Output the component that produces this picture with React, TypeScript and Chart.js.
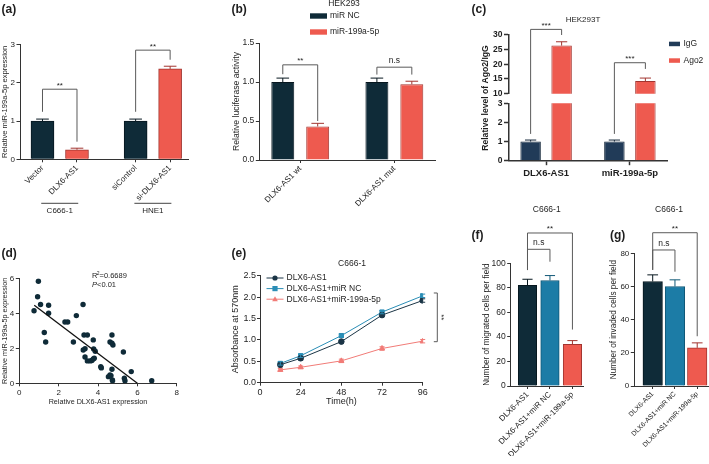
import React, { useEffect, useRef } from 'react';
import { Chart, registerables } from 'chart.js';

Chart.register(...registerables);

const W = 709;
const H = 464;
const FONT = '"Liberation Sans", Arial, Helvetica, sans-serif';
const INK = '#1e1e1e';
const AXIS = '#333333';
const BRK = '#5a5a5a';

const DARK = '#0f2b38';
const DARK_EDGE = '#07171f';
const RED = '#ee5a4f';
const RED_EDGE = '#a23530';
const NAVY = '#213b58';
const NAVY_EDGE = '#132538';
const BLUE = '#1c7ca6';
const BLUE_EDGE = '#105877';
const LINE_DARK = '#1b3546';
const LINE_TEAL = '#2b8eb6';
const LINE_RED = '#f17b77';

// ---------------- (a) ----------------
const aLabels = ['Vector', 'DLX6-AS1', 'siControl', 'si-DLX6-AS1'];
const aValues = [1.0, 0.25, 1.0, 2.36];
const aErrors = [0.05, 0.04, 0.05, 0.07];
const aGroups = ['C666-1', 'HNE1'];

// ---------------- (b) ----------------
const bLabels = ['DLX6-AS1 wt', 'DLX6-AS1 mut'];
const bSeries = ['miR NC', 'miR-199a-5p'];
const bNC = [1.0, 1.0];
const bMiR = [0.43, 0.97];
const bNCErr = [0.05, 0.05];
const bMiRErr = [0.04, 0.04];

// ---------------- (c) ----------------
const cLabels = ['DLX6-AS1', 'miR-199a-5p'];
const cSeries = ['IgG', 'Ago2'];
const cIgG = [1.0, 1.0];
const cAgo2 = [26.3, 14.3];
const cIgGErr = [0.08, 0.08];
const cAgo2Err = [1.3, 1.0];

// ---------------- (d) ----------------
const dX = [0.75, 0.97, 0.93, 1.08, 1.49, 1.49, 1.27, 1.34, 2.32, 2.46, 2.9, 2.75, 3.24, 3.29, 3.46, 3.25, 3.34, 3.34, 3.46, 3.6, 3.69, 3.76, 3.81, 3.78, 3.86, 4.14, 4.17, 3.76, 4.53, 4.61, 4.66, 4.71, 4.73, 4.61, 4.71, 4.76, 4.71, 5.29, 5.34, 5.37, 5.69, 6.73, 4.74];
const dY = [4.15, 5.83, 4.95, 4.5, 4.46, 4.0, 2.9, 2.36, 3.5, 3.5, 3.87, 2.36, 4.5, 2.76, 2.76, 1.9, 1.98, 1.5, 1.28, 1.28, 1.3, 1.39, 1.43, 1.96, 1.83, 0.95, 0.88, 2.48, 0.38, 0.48, 0.44, 0.8, 0.19, 2.36, 2.29, 2.19, 2.76, 1.79, 0.29, 0.15, 0.67, 0.15, 0.15];
const dFitX = [0.76, 6.0];
const dFitY = [4.46, 0];

// ---------------- (e) ----------------
const eTime = [12, 24, 48, 72, 96];
const eSeries = ['DLX6-AS1', 'DLX6-AS1+miR NC', 'DLX6-AS1+miR-199a-5p'];
const eDLX = [0.42, 0.57, 0.96, 1.58, 1.92];
const eNC = [0.45, 0.63, 1.1, 1.65, 2.03];
const eMiR = [0.3, 0.36, 0.51, 0.8, 0.97];
const eDLXErr = [0.05, 0.04, 0.04, 0.04, 0.04];
const eNCErr = [0.04, 0.04, 0.04, 0.04, 0.04];
const eMiRErr = [0.03, 0.03, 0.04, 0.04, 0.04];

// ---------------- (f) / (g) ----------------
const fgLabels = ['DLX6-AS1', 'DLX6-AS1+miR NC', 'DLX6-AS1+miR-199a-5p'];
const fValues = [82, 86, 34];
const fErrors = [5, 4, 3];
const gValues = [63, 60, 23];
const gErrors = [4, 4, 3];

// ---------------- helpers ----------------
type Area = { L: number; T: number; R: number; B: number };
const pad = (a: Area, yW: number, xH: number) => ({
  left: a.L - yW,
  top: a.T,
  right: W - a.R,
  bottom: H - a.B - xH,
});
const font = (size: number, bold = false) => ({ family: FONT, size, weight: bold ? 'bold' : 'normal', lineHeight: 1.2 });

function txt(ctx: any, s: string, x: number, y: number, o: any = {}) {
  ctx.save();
  ctx.font = `${o.italic ? 'italic ' : ''}${o.bold ? 'bold ' : ''}${o.size ?? 8}px ${FONT}`;
  ctx.fillStyle = o.color ?? INK;
  ctx.textAlign = o.align ?? 'center';
  ctx.textBaseline = o.base ?? 'middle';
  ctx.translate(x, y);
  if (o.rot) ctx.rotate(o.rot);
  ctx.fillText(s, 0, 0);
  ctx.restore();
}

function poly(ctx: any, pts: number[][], color: string, lw = 1) {
  ctx.save();
  ctx.strokeStyle = color;
  ctx.lineWidth = lw;
  ctx.beginPath();
  pts.forEach((p, i) => (i ? ctx.lineTo(p[0], p[1]) : ctx.moveTo(p[0], p[1])));
  ctx.stroke();
  ctx.restore();
}

function barErrors(chart: any, di: number, errs: number[], colors: any, capFrac = 0.55, lw = 1) {
  const ctx = chart.ctx;
  const ys = chart.scales.y;
  const meta = chart.getDatasetMeta(di);
  const data = chart.data.datasets[di].data;
  meta.data.forEach((el: any, i: number) => {
    const raw = data[i];
    const v = typeof raw === 'number' ? raw : raw && raw.y;
    const e = errs[i];
    if (v == null || e == null) return;
    if (v < ys.min || v + e > ys.max) return;
    const col = Array.isArray(colors) ? colors[i] : colors;
    const half = (el.width * capFrac) / 2;
    const y0 = ys.getPixelForValue(v);
    const y1 = ys.getPixelForValue(v + e);
    poly(ctx, [[el.x, y0], [el.x, y1]], col, lw);
    poly(ctx, [[el.x - half, y1], [el.x + half, y1]], col, lw);
  });
}

function lineErrors(chart: any, di: number, errs: number[], color: string, cap = 2.5) {
  const ctx = chart.ctx;
  const ys = chart.scales.y;
  const meta = chart.getDatasetMeta(di);
  const data = chart.data.datasets[di].data;
  meta.data.forEach((el: any, i: number) => {
    const v = data[i].y;
    const e = errs[i];
    const y0 = ys.getPixelForValue(v - e);
    const y1 = ys.getPixelForValue(v + e);
    poly(ctx, [[el.x, y0], [el.x, y1]], color, 1);
    poly(ctx, [[el.x - cap, y0], [el.x + cap, y0]], color, 1);
    poly(ctx, [[el.x - cap, y1], [el.x + cap, y1]], color, 1);
  });
}

function bracket(ctx: any, x1: number, x2: number, yTop: number, yL: number, yR: number, label: string, gap: number, size: number) {
  poly(ctx, [[x1, yL], [x1, yTop], [x2, yTop], [x2, yR]], BRK, 1);
  txt(ctx, label, (x1 + x2) / 2, yTop - gap, { size, base: 'alphabetic' });
}

function base(padding: any) {
  return {
    responsive: false,
    maintainAspectRatio: false,
    animation: false,
    devicePixelRatio: 1,
    events: [],
    layout: { padding },
    plugins: { legend: { display: false }, title: { display: false }, tooltip: { enabled: false } },
  };
}

function yLin(o: any) {
  const lw = o.lw ?? 1;
  return {
    type: 'linear',
    position: 'left',
    min: o.min,
    max: o.max,
    ticks: {
      stepSize: o.step,
      color: INK,
      padding: o.tickPad ?? 1.5,
      font: font(o.size, !!o.bold),
      callback: (v: any) => (o.dec != null ? Number(v).toFixed(o.dec) : String(v)),
    },
    grid: { display: true, drawOnChartArea: false, drawTicks: true, tickLength: o.tickLen ?? 3.5, tickColor: AXIS, tickWidth: lw },
    border: { display: true, color: AXIS, width: lw },
    title: o.title
      ? { display: true, text: o.title, color: INK, font: font(o.titleSize ?? o.size, !!o.titleBold), padding: { top: 0, bottom: 0 } }
      : { display: false },
    afterFit: (s: any) => {
      s.width = o.yW;
      s.paddingTop = 0;
      s.paddingBottom = 0;
    },
  };
}

function xSlots(o: any) {
  const lw = o.lw ?? 1;
  return {
    type: 'linear',
    position: 'bottom',
    display: o.display ?? true,
    min: o.min,
    max: o.max,
    offset: false,
    afterBuildTicks: (s: any) => {
      s.ticks = o.slots.map((v: number) => ({ value: v }));
    },
    ticks: {
      autoSkip: false,
      minRotation: o.rot ?? 0,
      maxRotation: o.rot ?? 0,
      color: INK,
      padding: o.tickPad ?? 1,
      font: font(o.size ?? 8, !!o.bold),
      callback: (_v: any, i: number) => o.labels[i],
    },
    grid: { display: true, offset: false, drawOnChartArea: false, drawTicks: true, tickLength: o.tickLen ?? 3, tickColor: AXIS, tickWidth: lw },
    border: { display: true, color: AXIS, width: lw },
    afterFit: (s: any) => {
      s.height = o.xH;
      s.paddingLeft = 0;
      s.paddingRight = 0;
    },
  };
}

function xNum(o: any) {
  return {
    type: 'linear',
    position: 'bottom',
    min: o.min,
    max: o.max,
    ticks: { stepSize: o.step, maxRotation: 0, minRotation: 0, color: INK, padding: o.tickPad ?? 1.5, font: font(o.size) },
    grid: { display: true, drawOnChartArea: false, drawTicks: true, tickLength: o.tickLen ?? 3, tickColor: AXIS },
    border: { display: true, color: AXIS, width: 1 },
    title: o.title
      ? { display: true, text: o.title, color: INK, font: font(o.titleSize ?? o.size), padding: { top: 0, bottom: 0 } }
      : { display: false },
    afterFit: (s: any) => {
      s.height = o.xH;
      s.paddingLeft = 0;
      s.paddingRight = 0;
    },
  };
}

// ---------------- chart configs ----------------
function cfgA(): any {
  const area = { L: 20, T: 44.4, R: 188, B: 159.3 };
  const slots = [1, 2, 3.7, 4.7];
  const fill = aValues.map((_, i) => (i % 2 ? RED : DARK));
  const edge = aValues.map((_, i) => (i % 2 ? RED_EDGE : DARK_EDGE));
  return {
    type: 'bar',
    data: {
      datasets: [
        { label: 'miR-199a-5p', data: aValues.map((v, i) => ({ x: slots[i], y: v })), backgroundColor: fill, borderColor: edge, borderWidth: 1, barThickness: 23 },
      ],
    },
    options: {
      ...base(pad(area, 19.5, 60)),
      scales: {
        x: xSlots({ min: 0.348, max: 5.218, slots, labels: aLabels, xH: 60, size: 8, rot: 45 }),
        y: yLin({ min: 0, max: 3, step: 1, yW: 19.5, size: 8, title: 'Relative miR-199a-5p expression', titleSize: 7.6 }),
      },
    },
    plugins: [
      {
        id: 'annA',
        afterDraw(chart: any) {
          const ctx = chart.ctx;
          const py = (v: number) => chart.scales.y.getPixelForValue(v);
          barErrors(chart, 0, aErrors, edge);
          const el = chart.getDatasetMeta(0).data;
          bracket(ctx, el[0].x, el[1].x, py(1.83), py(1.24), py(0.46), '**', 1.5, 8);
          bracket(ctx, el[2].x, el[3].x, py(2.85), py(1.24), py(2.6), '**', 1.5, 8);
          const gy = chart.chartArea.bottom + 44;
          [[0, 1], [2, 3]].forEach((p, g) => {
            const cx = (el[p[0]].x + el[p[1]].x) / 2;
            poly(ctx, [[cx - 18.5, gy], [cx + 18.5, gy]], '#444', 1);
            txt(ctx, aGroups[g], cx, gy + 7.5, { size: 8 });
          });
          txt(ctx, '(a)', 1.5, 10, { size: 12, bold: true, align: 'left' });
        },
      },
    ],
  };
}

function cfgB(): any {
  const area = { L: 259.3, T: 43, R: 435.3, B: 160 };
  const slots = [1, 2];
  const common = { borderWidth: 1, categoryPercentage: 0.742, barPercentage: 0.657 };
  return {
    type: 'bar',
    data: {
      datasets: [
        { label: bSeries[0], data: bNC.map((v, i) => ({ x: slots[i], y: v })), backgroundColor: DARK, borderColor: DARK_EDGE, ...common },
        { label: bSeries[1], data: bMiR.map((v, i) => ({ x: slots[i], y: v })), backgroundColor: RED, borderColor: RED_EDGE, ...common },
      ],
    },
    options: {
      ...base(pad(area, 28.3, 70)),
      scales: {
        x: xSlots({ min: 0.565, max: 2.435, slots, labels: bLabels, xH: 70, size: 8, rot: 45 }),
        y: yLin({ min: 0, max: 1.5, step: 0.5, yW: 28.3, size: 8.5, dec: 1, title: 'Relative luciferase activity', titleSize: 8.6 }),
      },
    },
    plugins: [
      {
        id: 'annB',
        afterDraw(chart: any) {
          const ctx = chart.ctx;
          const py = (v: number) => chart.scales.y.getPixelForValue(v);
          barErrors(chart, 0, bNCErr, DARK_EDGE);
          barErrors(chart, 1, bMiRErr, RED_EDGE);
          const m0 = chart.getDatasetMeta(0).data;
          const m1 = chart.getDatasetMeta(1).data;
          bracket(ctx, m0[0].x, m1[0].x, py(1.22), py(1.1), py(0.5), '**', 1.5, 8);
          bracket(ctx, m0[1].x, m1[1].x, py(1.19), py(1.095), py(1.095), 'n.s', 4, 8.5);
          chart.data.datasets.forEach((ds: any, i: number) => {
            ctx.save();
            ctx.fillStyle = ds.backgroundColor;
            ctx.fillRect(310, 13.3 + i * 16, 17, 5.4);
            ctx.restore();
            txt(ctx, ds.label, 330, 16 + i * 16, { size: 8.5, align: 'left' });
          });
          txt(ctx, 'HEK293', 344, 3.5, { size: 8.5 });
          txt(ctx, '(b)', 231.5, 10, { size: 12, bold: true, align: 'left' });
        },
      },
    ],
  };
}

function cDatasets() {
  const slots = [1, 2];
  const common = { borderWidth: 1, categoryPercentage: 0.74, barPercentage: 0.66, clip: 0 };
  return [
    { label: cSeries[0], data: cIgG.map((v, i) => ({ x: slots[i], y: v })), backgroundColor: NAVY, borderColor: NAVY_EDGE, ...common },
    { label: cSeries[1], data: cAgo2.map((v, i) => ({ x: slots[i], y: v })), backgroundColor: RED, borderColor: RED_EDGE, ...common },
  ];
}

function cfgCLower(): any {
  const area = { L: 509, T: 103.3, R: 667, B: 160.7 };
  return {
    type: 'bar',
    data: { datasets: cDatasets() },
    options: {
      ...base(pad(area, 30, 30)),
      scales: {
        x: xSlots({ min: 0.557, max: 2.443, slots: [1, 2], labels: cLabels, xH: 30, size: 9.5, bold: true, rot: 0, tickLen: 4.5, tickPad: 2, lw: 1.5 }),
        y: yLin({ min: 0, max: 3, step: 1, yW: 30, size: 8.5, bold: true, tickLen: 5, lw: 1.5 }),
      },
    },
    plugins: [
      {
        id: 'annCL',
        afterDraw(chart: any) {
          barErrors(chart, 0, cIgGErr, NAVY_EDGE);
          barErrors(chart, 1, cAgo2Err, RED_EDGE);
        },
      },
    ],
  };
}

function cfgCUpper(lower: any): any {
  const area = { L: 509, T: 34.7, R: 667, B: 93.7 };
  const xs = xSlots({ min: 0.557, max: 2.443, slots: [1, 2], labels: cLabels, xH: 0, size: 9.5, rot: 0 });
  return {
    type: 'bar',
    data: { datasets: cDatasets() },
    options: {
      ...base(pad(area, 30, 0)),
      scales: {
        x: { ...xs, display: false },
        y: yLin({ min: 10, max: 30, step: 5, yW: 30, size: 8.5, bold: true, tickLen: 5, lw: 1.5 }),
      },
    },
    plugins: [
      {
        id: 'annCU',
        afterDraw(chart: any) {
          const ctx = chart.ctx;
          barErrors(chart, 0, cIgGErr, NAVY_EDGE);
          barErrors(chart, 1, cAgo2Err, RED_EDGE);
          const up = (v: number) => chart.scales.y.getPixelForValue(v);
          const lo = (v: number) => lower.scales.y.getPixelForValue(v);
          const lm = lower.getDatasetMeta(0).data;
          const um = chart.getDatasetMeta(1).data;
          bracket(ctx, lm[0].x, um[0].x, up(31.8), lo(1.4), up(29.9), '***', 1.5, 8);
          bracket(ctx, lm[1].x, um[1].x, up(20.5), lo(1.4), up(18.4), '***', 1.5, 8);
          txt(ctx, 'Relative level of Ago2/IgG', 485.5, 98, { size: 8.6, bold: true, rot: -Math.PI / 2 });
          txt(ctx, 'HEK293T', 583, 20, { size: 8 });
          chart.data.datasets.forEach((ds: any, i: number) => {
            ctx.save();
            ctx.fillStyle = ds.backgroundColor;
            ctx.fillRect(669, 41.7 + i * 16.6, 11, 4.5);
            ctx.restore();
            txt(ctx, ds.label, 683.5, 44 + i * 16.6, { size: 8.5, align: 'left' });
          });
          txt(ctx, '(c)', 471.5, 10, { size: 12, bold: true, align: 'left' });
        },
      },
    ],
  };
}

function cfgD(): any {
  const area = { L: 19.3, T: 278.3, R: 176.7, B: 383.3 };
  return {
    type: 'scatter',
    data: {
      datasets: [
        { label: 'fit', data: dFitX.map((x, i) => ({ x, y: dFitY[i] })), showLine: true, borderColor: '#111111', borderWidth: 1.3, pointRadius: 0 },
        { label: 'samples', data: dX.map((x, i) => ({ x, y: dY[i] })), backgroundColor: DARK, borderColor: DARK, pointRadius: 2.7, borderWidth: 0 },
      ],
    },
    options: {
      ...base(pad(area, 19, 23)),
      scales: {
        x: xNum({ min: 0, max: 8, step: 2, xH: 23, size: 8, title: 'Relative DLX6-AS1 expression', titleSize: 7.2 }),
        y: yLin({ min: 0, max: 6, step: 2, yW: 19, size: 8, title: 'Relative miR-199a-5p expression', titleSize: 7.2 }),
      },
    },
    plugins: [
      {
        id: 'annD',
        afterDraw(chart: any) {
          const ctx = chart.ctx;
          txt(ctx, 'R', 92, 276, { size: 7.5, align: 'left' });
          txt(ctx, '2', 96.8, 273.5, { size: 5, align: 'left' });
          txt(ctx, '=0.6689', 99.5, 276, { size: 7.5, align: 'left' });
          txt(ctx, 'P', 92, 284.5, { size: 7.5, align: 'left', italic: true });
          txt(ctx, '<0.01', 97, 284.5, { size: 7.5, align: 'left' });
          txt(ctx, '(d)', 1.5, 254, { size: 12, bold: true, align: 'left' });
        },
      },
    ],
  };
}

function cfgE(): any {
  const area = { L: 260, T: 275.7, R: 422.7, B: 382.7 };
  const series = [
    { data: eDLX, err: eDLXErr, color: LINE_DARK, style: 'circle', r: 2.8 },
    { data: eNC, err: eNCErr, color: LINE_TEAL, style: 'rect', r: 3 },
    { data: eMiR, err: eMiRErr, color: LINE_RED, style: 'triangle', r: 3 },
  ];
  return {
    type: 'line',
    data: {
      datasets: series.map((s, k) => ({
        label: eSeries[k],
        data: eTime.map((t, i) => ({ x: t, y: s.data[i] })),
        borderColor: s.color,
        backgroundColor: s.color,
        borderWidth: 1,
        pointStyle: s.style,
        pointRadius: s.r,
        pointBorderWidth: 1,
        tension: 0,
      })),
    },
    options: {
      ...base(pad(area, 29.4, 24.7)),
      scales: {
        x: xNum({ min: 0, max: 96, step: 24, xH: 24.7, size: 9, title: 'Time(h)', titleSize: 9 }),
        y: yLin({ min: 0, max: 2.5, step: 0.5, yW: 29.4, size: 9, dec: 1, tickLen: 3, tickPad: 1, title: 'Absorbance at 570nm', titleSize: 9 }),
      },
    },
    plugins: [
      {
        id: 'annE',
        afterDraw(chart: any) {
          const ctx = chart.ctx;
          series.forEach((s, k) => lineErrors(chart, k, s.err, s.color, 2.5));
          const xs = chart.scales.x;
          const py = (v: number) => chart.scales.y.getPixelForValue(v);
          const bx = xs.getPixelForValue(96) + 14.6;
          poly(ctx, [[bx - 3.5, py(2.096)], [bx, py(2.096)], [bx, py(0.958)], [bx - 3.5, py(0.958)]], BRK, 1);
          txt(ctx, '**', bx + 4, (py(2.096) + py(0.958)) / 2, { size: 8, rot: Math.PI / 2, base: 'middle' });
          // legend
          series.forEach((s, k) => {
            const y = 278 + k * 10.6;
            poly(ctx, [[266.5, y], [283.5, y]], s.color, 1);
            ctx.save();
            ctx.fillStyle = s.color;
            ctx.strokeStyle = s.color;
            const cx = 275;
            if (s.style === 'circle') {
              ctx.beginPath();
              ctx.arc(cx, y, 2.6, 0, Math.PI * 2);
              ctx.fill();
            } else if (s.style === 'rect') {
              ctx.fillRect(cx - 2.6, y - 2.6, 5.2, 5.2);
            } else {
              ctx.beginPath();
              ctx.moveTo(cx, y - 3);
              ctx.lineTo(cx + 2.8, y + 2);
              ctx.lineTo(cx - 2.8, y + 2);
              ctx.closePath();
              ctx.fill();
            }
            ctx.restore();
            txt(ctx, eSeries[k], 286.5, y, { size: 8.5, align: 'left' });
          });
          txt(ctx, 'C666-1', 352, 263.3, { size: 8.5 });
          txt(ctx, '(e)', 231.5, 254, { size: 12, bold: true, align: 'left' });
        },
      },
    ],
  };
}

function cfgFG(which: 'f' | 'g'): any {
  const isF = which === 'f';
  const area = isF ? { L: 510.7, T: 263.3, R: 583, B: 386 } : { L: 634.3, T: 253.3, R: 708, B: 386 };
  const yW = isF ? 29 : 25;
  const values = isF ? fValues : gValues;
  const errors = isF ? fErrors : gErrors;
  const slots = [1, 2, 3];
  const fill = [DARK, BLUE, RED];
  const edge = [DARK_EDGE, BLUE_EDGE, RED_EDGE];
  return {
    type: 'bar',
    data: {
      datasets: [
        { label: isF ? 'migrated' : 'invaded', data: values.map((v, i) => ({ x: slots[i], y: v })), backgroundColor: fill, borderColor: edge, borderWidth: 1, barThickness: isF ? 18.5 : 19.5 },
      ],
    },
    options: {
      ...base(pad(area, yW, 70)),
      scales: {
        x: xSlots({ min: isF ? 0.253 : 0.173, max: isF ? 3.47 : 3.485, slots, labels: fgLabels, xH: 70, size: isF ? 8 : 6.8, rot: 45 }),
        y: yLin({
          min: 0,
          max: isF ? 100 : 80,
          step: 20,
          yW,
          size: isF ? 8.5 : 8,
          title: isF ? 'Number of migrated cells per field' : 'Number of invaded cells per field',
          titleSize: 8.2,
        }),
      },
    },
    plugins: [
      {
        id: 'ann' + which,
        afterDraw(chart: any) {
          const ctx = chart.ctx;
          const py = (v: number) => chart.scales.y.getPixelForValue(v);
          barErrors(chart, 0, errors, edge);
          const el = chart.getDatasetMeta(0).data;
          if (isF) {
            bracket(ctx, el[0].x, el[2].x, py(124.7), py(94.5), py(46), '**', 1.5, 8);
            bracket(ctx, el[0].x, el[1].x, py(111.4), py(94.5), py(101.3), 'n.s', 4, 8.5);
            txt(ctx, 'C666-1', 546.7, 210, { size: 8.5 });
            txt(ctx, '(f)', 471.5, 236, { size: 12, bold: true, align: 'left' });
          } else {
            bracket(ctx, el[0].x, el[2].x, py(92.4), py(70), py(30), '**', 1.5, 8);
            bracket(ctx, el[0].x, el[1].x, py(82), py(70), py(68.9), 'n.s', 4, 8.5);
            txt(ctx, 'C666-1', 669, 210, { size: 8.5 });
            txt(ctx, '(g)', 610, 236, { size: 12, bold: true, align: 'left' });
          }
        },
      },
    ],
  };
}

const N_CANVAS = 8;

export default function App() {
  const refs = useRef<(HTMLCanvasElement | null)[]>([]);

  useEffect(() => {
    const cs = refs.current;
    const charts: any[] = [];
    charts.push(new Chart(cs[0] as any, cfgA()));
    charts.push(new Chart(cs[1] as any, cfgB()));
    const lower = new Chart(cs[2] as any, cfgCLower());
    charts.push(lower);
    charts.push(new Chart(cs[3] as any, cfgCUpper(lower)));
    charts.push(new Chart(cs[4] as any, cfgD()));
    charts.push(new Chart(cs[5] as any, cfgE()));
    charts.push(new Chart(cs[6] as any, cfgFG('f')));
    charts.push(new Chart(cs[7] as any, cfgFG('g')));
    return () => {
      charts.forEach((c) => c.destroy());
    };
  }, []);

  return (
    <div style={{ position: 'absolute', left: 0, top: 0, width: W, height: H, background: '#ffffff', overflow: 'hidden' }}>
      {Array.from({ length: N_CANVAS }).map((_, i) => (
        <canvas
          key={i}
          ref={(el) => {
            refs.current[i] = el;
          }}
          width={W}
          height={H}
          style={{ position: 'absolute', left: 0, top: 0, width: W, height: H }}
        />
      ))}
    </div>
  );
}
